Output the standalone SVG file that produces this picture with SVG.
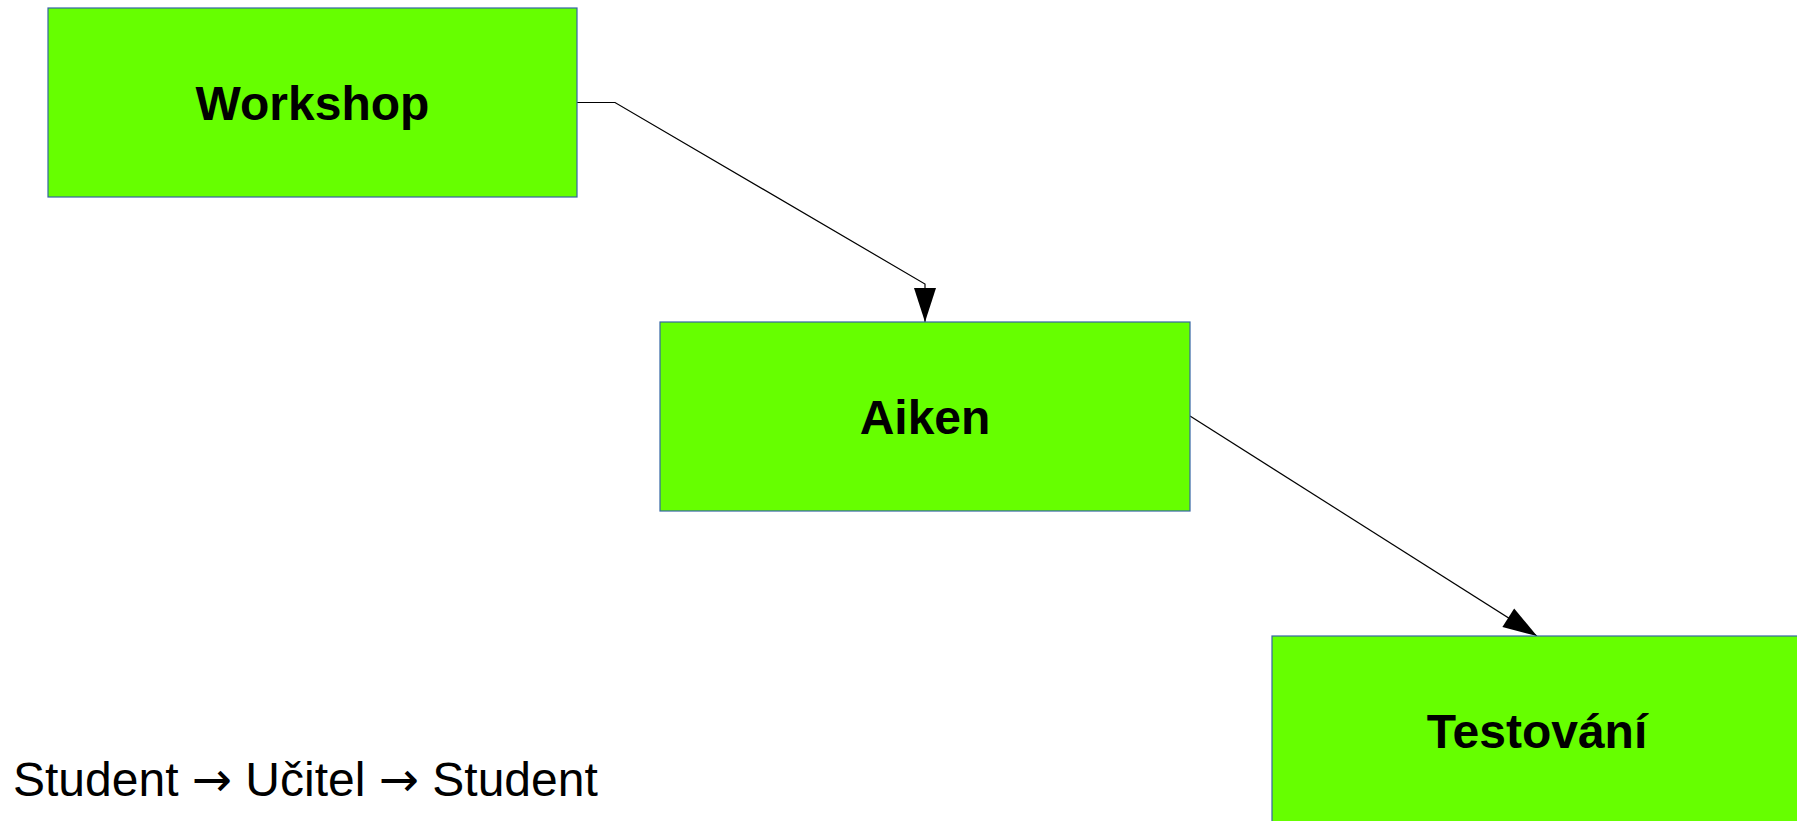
<svg xmlns="http://www.w3.org/2000/svg" width="1797" height="821" viewBox="0 0 1797 821">
<style>
.box{fill:#66ff00;stroke:#3465a4;stroke-width:1.2}
.lbl{font-family:"Liberation Sans",Arial,sans-serif;font-weight:bold;font-size:48px;fill:#000;text-anchor:middle}
.conn{fill:none;stroke:#000;stroke-width:1.2}
.note{font-family:"Liberation Sans",Arial,sans-serif;font-size:48px;fill:#000}
.ar{font-family:"DejaVu Sans",sans-serif}
</style>
<defs>
<marker id="arr" markerUnits="userSpaceOnUse" markerWidth="34" markerHeight="22" refX="34" refY="11" orient="auto" overflow="visible">
<path d="M0,0 L34,11 L0,22 z" fill="#000"/>
</marker>
</defs>
<rect width="1797" height="821" fill="#fff"/>
<g id="connectors">
<path class="conn" d="M577,102.5 H615 L925,284 V322" marker-end="url(#arr)"/>
<path class="conn" d="M1190,416 L1537,636" marker-end="url(#arr)"/>
</g>
<g id="workshop">
<rect class="box" x="48" y="8" width="529" height="189"/>
<text class="lbl" x="312.5" y="119.5">Workshop</text>
</g>
<g id="aiken">
<rect class="box" x="660" y="322" width="530" height="189"/>
<text class="lbl" x="925" y="433.5">Aiken</text>
</g>
<g id="testovani">
<rect class="box" x="1272" y="636" width="530" height="189"/>
<text class="lbl" x="1537" y="747.5">Testování</text>
</g>
<text class="note" x="13" y="796">Student <tspan class="ar">→</tspan> Učitel <tspan class="ar">→</tspan> Student</text>
</svg>
